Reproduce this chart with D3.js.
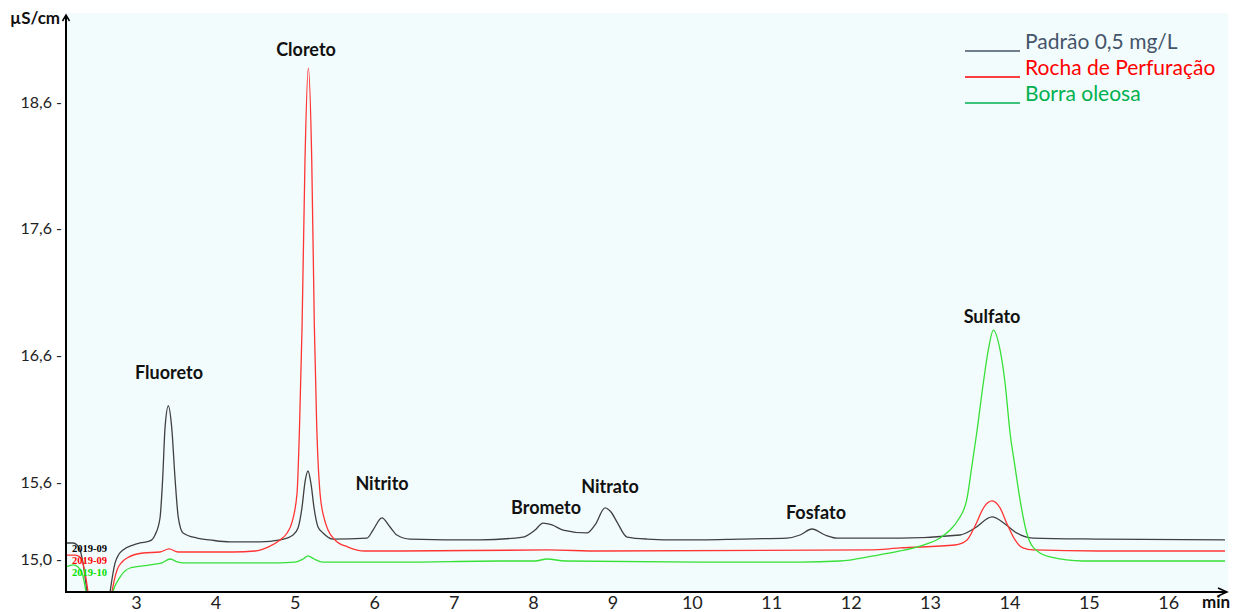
<!DOCTYPE html>
<html>
<head>
<meta charset="utf-8">
<script src="https://cdn.jsdelivr.net/npm/d3@7"></script>
<style>
  body { margin: 0; background: #fff; }
</style>
</head>
<body>
<script>
var padrao = [
    [2.118, 15.126], [2.207, 15.126], [2.257, 15.110], [2.295, 15.071], [2.332, 14.969],
    [2.383, 14.740], [2.421, 14.559], [2.635, 14.559], [2.673, 14.740], [2.736, 14.969],
    [2.786, 15.039], [2.836, 15.071], [2.962, 15.110], [3.050, 15.126], [3.176, 15.142],
    [3.239, 15.189], [3.302, 15.323], [3.336, 15.638], [3.365, 16.031], [3.407, 16.205],
    [3.450, 16.031], [3.491, 15.638], [3.533, 15.323], [3.592, 15.205], [3.768, 15.165],
    [3.932, 15.150], [4.184, 15.134], [4.562, 15.134], [4.814, 15.150], [4.977, 15.189],
    [5.040, 15.244], [5.091, 15.409], [5.128, 15.606], [5.166, 15.693], [5.204, 15.591],
    [5.242, 15.402], [5.292, 15.252], [5.355, 15.205], [5.481, 15.157], [5.909, 15.165],
    [5.985, 15.228], [6.096, 15.323], [6.199, 15.252], [6.285, 15.189], [6.451, 15.157],
    [7.332, 15.150], [7.874, 15.173], [8.025, 15.228], [8.126, 15.283], [8.239, 15.268],
    [8.378, 15.228], [8.680, 15.205], [8.781, 15.268], [8.907, 15.402], [8.982, 15.370],
    [9.058, 15.291], [9.184, 15.173], [9.436, 15.157], [9.851, 15.150], [10.607, 15.157],
    [11.199, 15.165], [11.363, 15.189], [11.514, 15.236], [11.678, 15.189], [11.829, 15.165],
    [12.622, 15.165], [13.378, 15.189], [13.567, 15.244], [13.781, 15.331], [13.945, 15.276],
    [14.071, 15.213], [14.297, 15.165], [15.141, 15.157], [16.715, 15.150]
];

var rocha = [
    [2.118, 15.031], [2.232, 15.031], [2.295, 15.016], [2.358, 14.890], [2.395, 14.740],
    [2.433, 14.559], [2.660, 14.559], [2.698, 14.740], [2.761, 14.913], [2.824, 14.976],
    [2.887, 15.008], [3.088, 15.047], [3.302, 15.055], [3.416, 15.079], [3.529, 15.055],
    [4.222, 15.055], [4.499, 15.063], [4.662, 15.094], [4.814, 15.150], [4.902, 15.205],
    [4.965, 15.291], [5.028, 15.520], [5.059, 16.039], [5.091, 16.827], [5.128, 18.142],
    [5.170, 18.866], [5.213, 18.142], [5.246, 16.827], [5.276, 16.039], [5.317, 15.520],
    [5.368, 15.323], [5.418, 15.228], [5.506, 15.150], [5.670, 15.094], [5.884, 15.063],
    [6.325, 15.063], [8.176, 15.071], [8.844, 15.063], [12.244, 15.071], [12.622, 15.087],
    [13.315, 15.110], [13.466, 15.150], [13.567, 15.260], [13.680, 15.409], [13.781, 15.457],
    [13.882, 15.402], [13.970, 15.276], [14.071, 15.150], [14.171, 15.087], [14.297, 15.071],
    [15.141, 15.063], [16.715, 15.063]
];

var borra = [
    [2.118, 14.937], [2.207, 14.953], [2.270, 14.937], [2.320, 14.890], [2.370, 14.740],
    [2.408, 14.559], [2.673, 14.559], [2.710, 14.740], [2.761, 14.819], [2.798, 14.858],
    [2.924, 14.929], [3.176, 14.953], [3.327, 14.969], [3.428, 15.000], [3.529, 14.976],
    [3.642, 14.969], [4.650, 14.969], [5.003, 14.976], [5.103, 15.000], [5.166, 15.024],
    [5.242, 15.000], [5.355, 14.976], [6.322, 14.976], [7.584, 14.984], [8.025, 14.984],
    [8.176, 15.000], [8.403, 14.984], [10.103, 14.976], [11.363, 14.976], [11.866, 14.984],
    [12.282, 15.024], [12.622, 15.063], [12.874, 15.102], [13.126, 15.165], [13.252, 15.228],
    [13.353, 15.307], [13.462, 15.465], [13.525, 15.724], [13.588, 15.992], [13.671, 16.386],
    [13.734, 16.646], [13.797, 16.803], [13.882, 16.646], [13.945, 16.386], [14.008, 15.992],
    [14.071, 15.724], [14.134, 15.465], [14.218, 15.205], [14.297, 15.094], [14.511, 15.016],
    [14.927, 14.984], [16.715, 14.984]
];

var seriesNames = ["Padrão 0,5 mg/L", "Rocha de Perfuração", "Borra oleosa"];
var sampleCodes = ["2019-09", "2019-09", "2019-10"];

// nomes dos picos, tempo do rótulo e altura do rótulo
var peakNames = ["Fluoreto", "Cloreto", "Nitrito", "Brometo", "Nitrato", "Fosfato", "Sulfato"];
var peakTimes = [3.416, 5.141, 6.098, 8.164, 8.970, 11.564, 13.781];
var peakLabelLevels = [16.417, 18.961, 15.543, 15.354, 15.520, 15.315, 16.858];

var xTicks = [3, 4, 5, 6, 7, 8, 9, 10, 11, 12, 13, 14, 15, 16];
var yTicks = [15.0, 15.6, 16.6, 17.6, 18.6];

// cores
var lineColors = ["#404040", "#ff3434", "#36e036"];
var legendColors = ["#44546a", "#ff0000", "#00b050"];
var codeColors = ["#000000", "#ff0000", "#00e000"];

var fontMain = "Lato, 'Open Sans', sans-serif";

var width = 1248, height = 612;
var plot = { left: 66, right: 1225, top: 13, bottom: 592 };

// escalas
var x = d3.scaleLinear()
    .domain([2.118, 16.715])
    .range([plot.left, plot.right]);

var y = d3.scaleLinear()
    .domain([14.74, 19.30])
    .range([plot.bottom, plot.top]);

var svg = d3.select("body").append("svg")
    .attr("width", width)
    .attr("height", height);

// fundo da área do gráfico
svg.append("rect")
    .attr("x", plot.left + 1)
    .attr("y", plot.top)
    .attr("width", plot.right - plot.left + 2)
    .attr("height", plot.bottom - plot.top)
    .attr("fill", "#f3fcfc");

svg.append("clipPath")
    .attr("id", "clip")
    .append("rect")
    .attr("x", plot.left + 1)
    .attr("y", plot.top)
    .attr("width", plot.right - plot.left)
    .attr("height", plot.bottom - plot.top - 1);

// legenda
var legend = svg.append("g");
seriesNames.forEach(function (name, i) {
    var ly = 51 + i * 26;
    legend.append("line")
        .attr("x1", 965).attr("x2", 1020)
        .attr("y1", ly).attr("y2", ly)
        .attr("stroke", legendColors[i])
        .attr("stroke-width", 1.5);
    legend.append("text")
        .attr("x", 1025)
        .attr("y", ly - 2)
        .attr("font-family", fontMain)
        .attr("font-size", "21px")
        .attr("fill", legendColors[i])
        .text(name);
});

// linhas dos cromatogramas
var line = d3.line()
    .x(function (d) { return x(d[0]); })
    .y(function (d) { return y(d[1]); })
    .curve(d3.curveMonotoneX);

var curves = svg.append("g").attr("clip-path", "url(#clip)");
[padrao, rocha, borra].forEach(function (data, i) {
    curves.append("path")
        .datum(data)
        .attr("d", line)
        .attr("fill", "none")
        .attr("stroke", lineColors[i])
        .attr("stroke-width", 1.3);
});

// códigos das amostras
sampleCodes.forEach(function (code, i) {
    svg.append("text")
        .attr("x", 72)
        .attr("y", 552 + i * 12)
        .attr("font-family", "'Liberation Serif', 'DejaVu Serif', serif")
        .attr("font-weight", "bold")
        .attr("font-size", "10.5px")
        .attr("fill", codeColors[i])
        .text(code);
});

// rótulos dos picos
svg.append("g").selectAll("text")
    .data(peakNames)
    .enter()
    .append("text")
    .attr("x", function (d, i) { return x(peakTimes[i]); })
    .attr("y", function (d, i) { return y(peakLabelLevels[i]); })
    .attr("text-anchor", "middle")
    .attr("font-family", fontMain)
    .attr("font-weight", "bold")
    .attr("font-size", "18px")
    .attr("fill", "#111")
    .text(function (d) { return d; });

// eixo y
var yAxis = d3.axisLeft(y)
    .tickValues(yTicks)
    .tickSize(0)
    .tickPadding(4)
    .tickFormat(function (d) { return d3.format(".1f")(d).replace(".", ",") + " -"; });

svg.append("g")
    .attr("transform", "translate(" + plot.left + ",0)")
    .call(yAxis)
    .call(function (g) { g.select(".domain").remove(); })
    .attr("font-family", fontMain)
    .attr("font-size", "16px")
    .selectAll("text")
    .attr("fill", "#222");

// eixo x
var xAxis = d3.axisBottom(x)
    .tickValues(xTicks)
    .tickSize(0)
    .tickFormat(d3.format("d"));

svg.append("g")
    .attr("transform", "translate(0," + plot.bottom + ")")
    .call(xAxis)
    .call(function (g) { g.select(".domain").remove(); })
    .attr("font-family", fontMain)
    .attr("font-size", "18px")
    .selectAll("text")
    .attr("y", 17)
    .attr("dy", 0)
    .attr("fill", "#222");

// linhas dos eixos com setas
var axisLines = svg.append("g")
    .attr("fill", "none")
    .attr("stroke", "#000")
    .attr("stroke-width", 2);

axisLines.append("path")
    .attr("d", "M" + plot.left + "," + (plot.bottom + 1) + "V" + (plot.top + 2));
axisLines.append("path")
    .attr("d", "M" + (plot.left - 3.5) + "," + (plot.top + 8) + "L" + plot.left + "," + (plot.top + 2) + "L" + (plot.left + 3.5) + "," + (plot.top + 8))
    .attr("stroke-width", 1.5);
axisLines.append("path")
    .attr("d", "M" + (plot.left - 1) + "," + plot.bottom + "H" + (plot.right + 2));
axisLines.append("path")
    .attr("d", "M" + (plot.right - 7) + "," + (plot.bottom - 4) + "L" + (plot.right + 2) + "," + plot.bottom + "L" + (plot.right - 7) + "," + (plot.bottom + 4))
    .attr("stroke-width", 1.5);

// títulos dos eixos
svg.append("text")
    .attr("x", 10)
    .attr("y", 24)
    .attr("font-family", fontMain)
    .attr("font-weight", "bold")
    .attr("font-size", "17px")
    .attr("fill", "#111")
    .text("µS/cm");

svg.append("text")
    .attr("x", 1202)
    .attr("y", 608)
    .attr("font-family", fontMain)
    .attr("font-weight", "bold")
    .attr("font-size", "17px")
    .attr("fill", "#111")
    .text("min");
</script>
</body>
</html>
